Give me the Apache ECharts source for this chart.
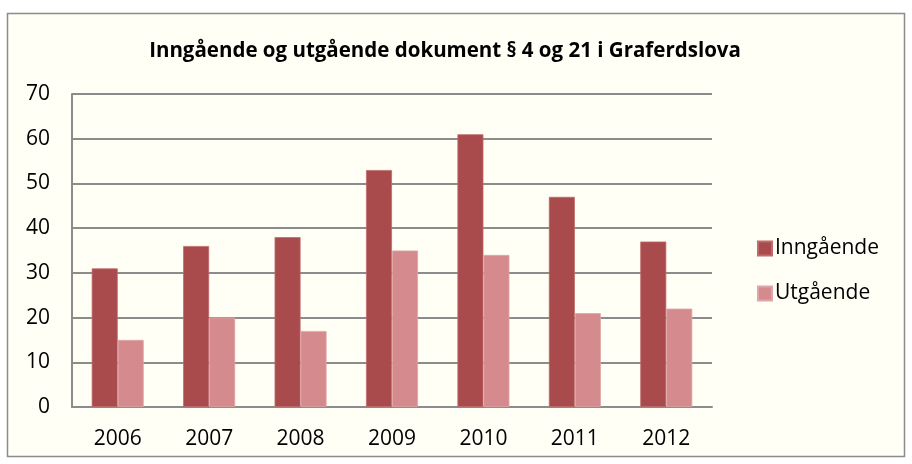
<!DOCTYPE html>
<html><head><meta charset="utf-8">
<script src="https://cdn.jsdelivr.net/npm/echarts@6/dist/echarts.min.js"></script>
<style>html,body{margin:0;padding:0;background:#fff}#c{width:912px;height:464px}</style>
</head><body><div id="c"></div>
<script>
const categories = ['2006','2007','2008','2009','2010','2011','2012'];
const inngaaende = [31,36,38,53,61,47,37];
const utgaaende = [15,20,17,35,34,21,22];
const seriesNames = ['Inngående','Utgående'];
const titleText = 'Inngående og utgående dokument § 4 og 21 i Graferdslova';

const chart = echarts.init(document.getElementById('c'), null, {renderer:'canvas'});
const font = '"Open Sans", "Liberation Sans", sans-serif';
chart.setOption({
  backgroundColor: '#ffffff',
  animation: false,
  graphic: [{type:'rect', shape:{x:7.5,y:13.5,width:897,height:443}, style:{fill:'#fffff6', stroke:'#8c8c8c', lineWidth:1.5}, z:-10}],
  title: {text: titleText, left: 440, top: 36, textAlign:'center',
    textStyle:{fontFamily:font, fontWeight:'bold', fontSize:20.5, color:'#000'}},
  legend: {orient:'vertical', left:752, top:233, itemGap:24, itemWidth:14, itemHeight:14,
    icon:'rect', textStyle:{fontFamily:font, fontSize:21, color:'#000', padding:[0,0,0,-2]},
    data: seriesNames},
  grid: {left:72, right:200, top:94, bottom:57},
  xAxis: {type:'category', data:categories,
    axisLine:{lineStyle:{color:'#8c8c8c', width:2}}, axisTick:{show:false},
    axisLabel:{fontFamily:font, fontSize:21, color:'#000', margin:22}},
  yAxis: {type:'value', min:0, max:70, interval:10,
    axisLine:{show:true, lineStyle:{color:'#8c8c8c', width:2}}, axisTick:{show:false},
    splitLine:{lineStyle:{color:'#8c8c8c', width:2}},
    axisLabel:{fontFamily:font, fontSize:21, color:'#000', margin:22}},
  series: [
    {name:seriesNames[0], type:'bar', data:inngaaende, barWidth:26, barGap:'0%',
      itemStyle:{color:'#a94b4c', borderColor:'#c06a6b', borderWidth:0.8}},
    {name:seriesNames[1], type:'bar', data:utgaaende, barWidth:26,
      itemStyle:{color:'#d58b8d', borderColor:'#e0a5a6', borderWidth:0.8}}
  ]
});
</script></body></html>
